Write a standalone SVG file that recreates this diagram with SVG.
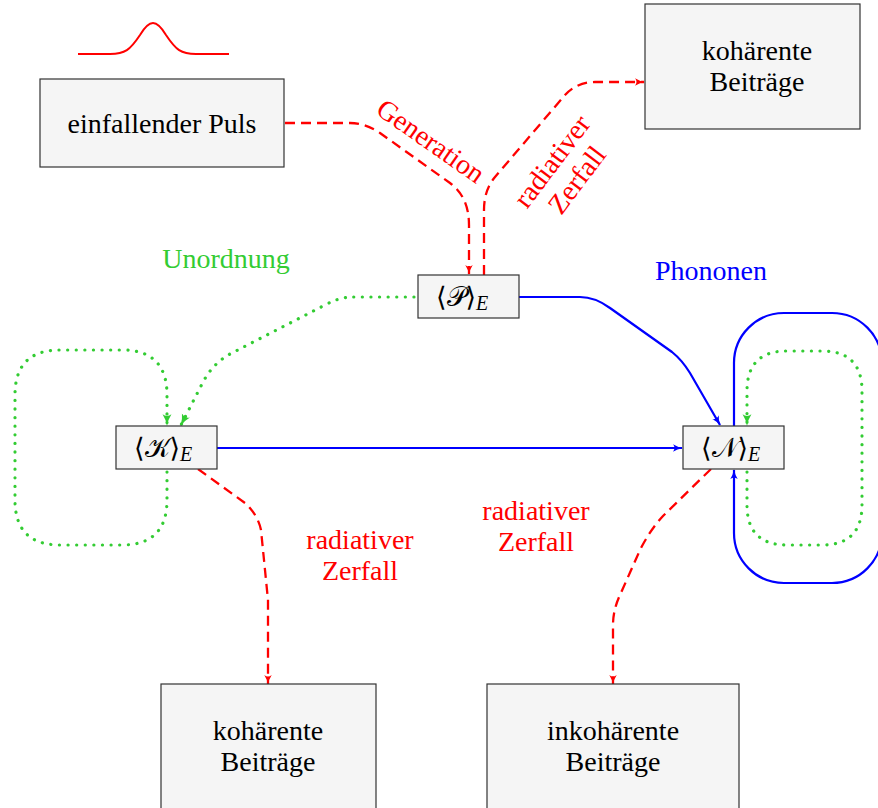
<svg xmlns="http://www.w3.org/2000/svg" width="878" height="808" viewBox="0 0 878 808">
<defs>
<style>
.box{fill:#f5f5f5;stroke:#333;stroke-width:1.2}
.t{font-size:28px;text-anchor:middle}
.m{font-size:27px}
.sub{font-style:italic;font-size:20px}
.red{fill:none;stroke:#ff0000;stroke-width:2.3;stroke-dasharray:10,6}
.blue{fill:none;stroke:#0000ff;stroke-width:2.2}
.green{fill:none;stroke:#33cc33;stroke-width:3.2;stroke-dasharray:0.1,8.5;stroke-linecap:round}
</style>
<marker id="ar" viewBox="0 0 10 8" refX="9" refY="4" markerWidth="10" markerHeight="8" markerUnits="userSpaceOnUse" orient="auto"><path d="M0,0.3 Q4,3 10,4 Q4,5 0,7.7 Q3,4 0,0.3z" fill="#ff0000"/></marker>
<marker id="ab" viewBox="0 0 10 8" refX="9" refY="4" markerWidth="10" markerHeight="8" markerUnits="userSpaceOnUse" orient="auto"><path d="M0,0.3 Q4,3 10,4 Q4,5 0,7.7 Q3,4 0,0.3z" fill="#0000ff"/></marker>
<marker id="ag" viewBox="0 0 10 8" refX="9" refY="4" markerWidth="12" markerHeight="11" markerUnits="userSpaceOnUse" orient="auto"><path d="M0,0.3 Q4,3 10,4 Q4,5 0,7.7 Q3,4 0,0.3z" fill="#33cc33"/></marker>
</defs>
<rect width="878" height="808" fill="#fff"/>
<path id="pulse" d="M78,54 L110,54 C125,54 130,50 140,35 C146,25 150,23 153,23 C156,23 160,25 166,35 C176,50 181,54 196,54 L229,54" fill="none" stroke="#ff0000" stroke-width="2"/>
<g id="connectors">
<path class="red" d="M285,123 L350,123 Q365,123 380,133 L450,183 Q469,197 469,225 L469,274" marker-end="url(#ar)"/>
<path class="red" d="M484,275 L484,210 Q484,190 495,177 L565,95 Q577,82 595,82 L644,82" marker-end="url(#ar)"/>
<path class="red" d="M198,469 L245,503 Q258,515 261,530 L268,600 L268,684" marker-end="url(#ar)"/>
<path class="red" d="M711,469 L663,516 Q650,530 640,550 L620,595 Q613,610 613,625 L613,684" marker-end="url(#ar)"/>
<path class="blue" d="M519,297 L580,297 Q595,297 610,308 L672,352 Q682,360 690,373 L720,425" marker-end="url(#ab)"/>
<path class="blue" d="M217,448 L682,448" marker-end="url(#ab)"/>
<path class="blue" d="M734,426 L734,363 A50,50 0 0 1 784,313 L832,313 A50,50 0 0 1 882,363 L882,533 A50,50 0 0 1 832,583 L784,583 A50,50 0 0 1 734,533 L734,470" marker-end="url(#ab)"/>
<path class="green" d="M414,297 L352,297 Q340,297 325,305 L230,354 Q212,364 202,384 L181,425" marker-end="url(#ag)"/>
<path class="green" d="M167,472 L167,500 Q167,545 122,545 L60,545 Q15,545 15,500 L15,395 Q15,350 60,350 L122,350 Q167,350 167,395 L167,425" marker-end="url(#ag)"/>
<path class="green" d="M747,472 L747,505 Q747,545 787,545 L822,545 Q862,545 862,505 L862,391 Q862,351 822,351 L787,351 Q747,351 747,391 L747,425" marker-end="url(#ag)"/>
</g>
<g font-family="Liberation Serif, DejaVu Serif, serif">
<g id="puls"><rect class="box" x="40" y="79" width="244" height="88"/><text class="t" x="162" y="133">einfallender Puls</text></g>
<g id="koh-top"><rect class="box" x="645" y="4" width="215" height="125"/><text class="t" x="757" y="60">kohärente</text><text class="t" x="757" y="91">Beiträge</text></g>
<g id="P"><rect class="box" x="418" y="275" width="101" height="43"/><text x="436" y="306"><tspan class="m" font-family="DejaVu Serif, serif">⟨𝒫⟩</tspan><tspan class="sub" dy="4">E</tspan></text></g>
<g id="K"><rect class="box" x="116" y="426" width="101" height="43"/><text x="134" y="457"><tspan class="m" font-family="DejaVu Serif, serif">⟨𝒦⟩</tspan><tspan class="sub" dy="4">E</tspan></text></g>
<g id="N"><rect class="box" x="683" y="426" width="101" height="43"/><text x="701" y="457"><tspan class="m" font-family="DejaVu Serif, serif">⟨𝒩⟩</tspan><tspan class="sub" dy="4">E</tspan></text></g>
<g id="koh-bottom"><rect class="box" x="161" y="684" width="215" height="130"/><text class="t" x="268" y="740">kohärente</text><text class="t" x="268" y="771">Beiträge</text></g>
<g id="inkoh"><rect class="box" x="487" y="684" width="252" height="130"/><text class="t" x="613" y="740">inkohärente</text><text class="t" x="613" y="771">Beiträge</text></g>
<g id="labels">
<text class="t" fill="#ff0000" transform="translate(430,142) rotate(35)" y="8">Generation</text>
<g transform="translate(553,162) rotate(-53)"><text class="t" fill="#ff0000" y="8">radiativer</text><text class="t" fill="#ff0000" y="39">Zerfall</text></g>
<text class="t" fill="#33cc33" x="226" y="268">Unordnung</text>
<text class="t" fill="#0000ff" x="711" y="280">Phononen</text>
<text class="t" fill="#ff0000" x="360" y="549">radiativer</text><text class="t" fill="#ff0000" x="360" y="580">Zerfall</text>
<text class="t" fill="#ff0000" x="536" y="520">radiativer</text><text class="t" fill="#ff0000" x="536" y="551">Zerfall</text>
</g>
</g>
</svg>
